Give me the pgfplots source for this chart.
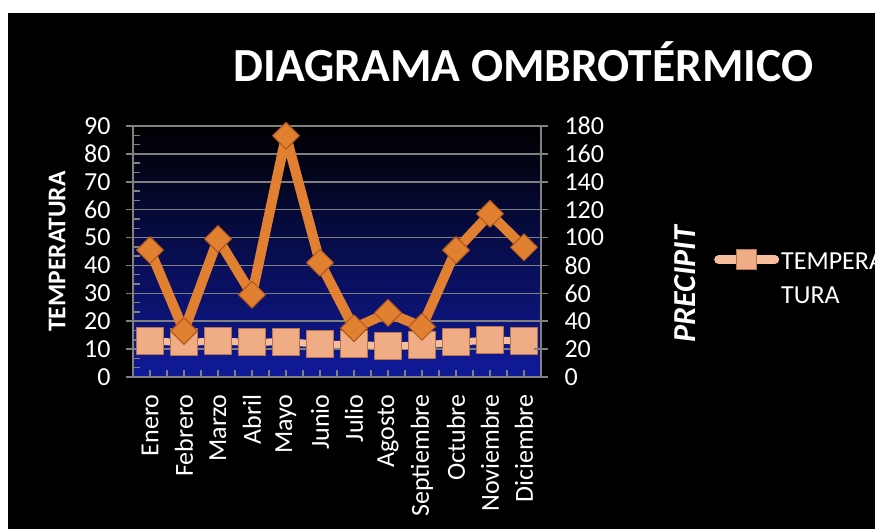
\documentclass[border=0pt]{standalone}
\usepackage{fontspec}
\setmainfont{Carlito}
\usepackage{pgfplots}
\pgfplotsset{compat=1.18}
\definecolor{gridgray}{RGB}{128,128,128}
\definecolor{plotblue}{RGB}{16,26,155}
\definecolor{dorange}{RGB}{226,128,50}
\definecolor{dorangeedge}{RGB}{170,86,28}
\definecolor{salmon}{RGB}{240,172,132}
\definecolor{salmonedge}{RGB}{180,115,82}
\definecolor{salmonline}{RGB}{246,190,156}

\begin{document}
\begin{tikzpicture}
\useasboundingbox (0bp,0bp) rectangle (875bp,529bp);
\clip (0bp,0bp) rectangle (875bp,529bp);
\fill[white] (0bp,0bp) rectangle (875bp,529bp);
\fill[black] (8bp,0bp) rectangle (875bp,516bp);

\pgfplotsset{
  commonax/.style={
    at={(133bp,152bp)}, anchor=south west, scale only axis,
    width=408bp, height=251bp,
    xmin=0.5, xmax=12.5, clip=false,
    axis line style={gridgray, line width=1.5bp},
    font=\fontsize{26bp}{31bp}\selectfont,
    /pgf/number format/assume math mode=true,
    tick label style={white},
    tick style={gridgray, line width=1.5bp},
  }
}

\begin{axis}[commonax,
  axis y line*=left, axis x line*=bottom,
  ymin=0, ymax=90, ytick distance=10, minor y tick num=2,
  axis background/.style={shade, top color=black, bottom color=plotblue},
  ymajorgrids, major grid style={gridgray, line width=1.5bp},
  tick align=inside, major tick length=7bp, minor tick length=7bp,
  every major y tick/.append style={xshift=-7bp},
  xtick={1,...,12},
  xticklabels={Enero,Febrero,Marzo,Abril,Mayo,Junio,Julio,Agosto,Septiembre,Octubre,Noviembre,Diciembre},
  minor xtick={0.5,1.5,...,12.5},
  xticklabel style={rotate=90, anchor=east, xshift=-14bp},
  yticklabel style={xshift=-19bp},
  ylabel={\bfseries TEMPERATURA},
  ylabel style={white, at={(axis description cs:-0.186,0.5)}, anchor=center,
    font=\fontsize{25.5bp}{30bp}\selectfont},
  legend style={at={(axis description cs:1.424,0.522)}, anchor=north west,
    draw=none, fill=none, text=white, inner sep=0pt,
    font=\fontsize{26bp}{31bp}\selectfont, cells={anchor=west}},
  legend image code/.code={%
    \draw[mark repeat=2,mark phase=2,#1,line width=9bp,mark size=10bp] plot coordinates {(0bp,0bp) (28bp,0bp) (56bp,0bp)};},
]
\addplot[salmonline, line width=7bp, line cap=round, line join=round,
  mark=square*, mark size=13.5bp,
  mark options={fill=salmon, draw=salmonedge, line width=1bp}]
  coordinates {(1,12.9) (2,12.4) (3,12.9) (4,12.4) (5,12.7) (6,11.7)
               (7,11.7) (8,11.1) (9,11.5) (10,12.4) (11,13.3) (12,12.9)};
\addlegendentry{\begin{tabular}[t]{@{}l@{}}TEMPERA\\[3bp]TURA\end{tabular}}
\end{axis}

\begin{axis}[commonax,
  axis y line*=right, axis x line=none,
  ymin=0, ymax=180, ytick distance=20,
  tick align=center, major tick length=14bp,
  yticklabel style={xshift=13bp},
  ylabel={\bfseries\itshape PRECIPIT},
  ylabel style={white, at={(axis description cs:1.353,0.3705)}, anchor=center,
    font=\fontsize{32bp}{38bp}\selectfont},
]
\addplot[dorange, line width=10bp, line join=round, line cap=round,
  mark=square*, mark size=9.5bp,
  mark options={rotate=45, fill=dorange, draw=dorangeedge, line width=1bp}]
  coordinates {(1,91) (2,33) (3,99) (4,59) (5,173) (6,82)
               (7,35) (8,46) (9,36) (10,91) (11,117) (12,93)};
\end{axis}

\node[white, font=\fontsize{47.5bp}{56bp}\selectfont\bfseries, anchor=center] at (523.5bp,467bp) {DIAGRAMA OMBROTÉRMICO};
\end{tikzpicture}
\end{document}
